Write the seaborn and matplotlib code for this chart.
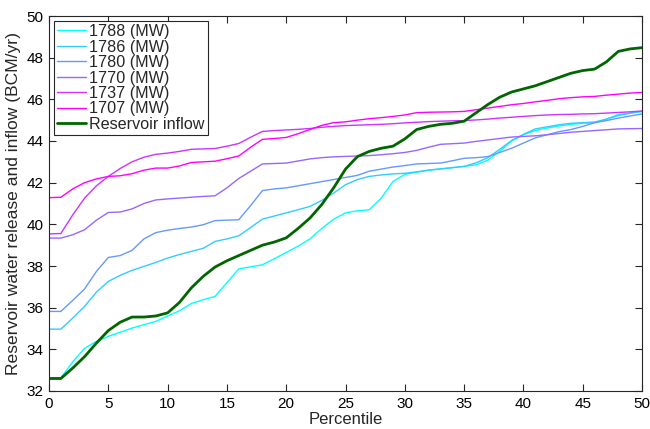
import numpy as np
import pandas as pd
import matplotlib
matplotlib.use("Agg")
import matplotlib.pyplot as plt
import seaborn as sns

percentile = list(range(0, 51))

inflow = [32.6, 32.6, 33.1, 33.65, 34.3, 34.9, 35.3, 35.55, 35.55, 35.6, 35.75, 36.25, 36.95, 37.5, 37.95,
          38.25, 38.5, 38.75, 39.0, 39.15, 39.35, 39.8, 40.3, 40.95, 41.75, 42.65, 43.25, 43.5, 43.65, 43.75,
          44.1, 44.55, 44.7, 44.8, 44.85, 44.95, 45.35, 45.75, 46.1, 46.35, 46.5, 46.65, 46.85, 47.05, 47.25,
          47.38, 47.45, 47.8, 48.3, 48.42, 48.48]

s1707 = [41.28, 41.3, 41.7, 42.0, 42.18, 42.3, 42.33, 42.43, 42.6, 42.7, 42.7, 42.8, 42.97, 43.0, 43.03,
         43.15, 43.28, 43.7, 44.08, 44.12, 44.17, 44.35, 44.55, 44.75, 44.88, 44.92, 45.0, 45.07, 45.12, 45.18,
         45.25, 45.36, 45.38, 45.39, 45.4, 45.42, 45.5, 45.58, 45.66, 45.74, 45.8, 45.88, 45.95, 46.03, 46.08,
         46.12, 46.14, 46.2, 46.25, 46.3, 46.33]

s1737 = [39.54, 39.56, 40.45, 41.26, 41.85, 42.3, 42.68, 43.0, 43.22, 43.36, 43.42, 43.5, 43.6, 43.62, 43.64,
         43.75, 43.88, 44.18, 44.46, 44.5, 44.53, 44.56, 44.6, 44.66, 44.7, 44.74, 44.76, 44.78, 44.8, 44.83,
         44.87, 44.9, 44.93, 44.95, 44.97, 44.98, 45.01, 45.05, 45.1, 45.14, 45.18, 45.22, 45.25, 45.27, 45.28,
         45.3, 45.31, 45.34, 45.37, 45.4, 45.44]

s1770 = [39.34, 39.34, 39.5, 39.74, 40.2, 40.57, 40.59, 40.74, 41.0, 41.17, 41.22, 41.26, 41.3, 41.34, 41.37,
         41.75, 42.2, 42.55, 42.9, 42.92, 42.94, 43.04, 43.14, 43.2, 43.24, 43.26, 43.28, 43.3, 43.34, 43.39,
         43.45, 43.55, 43.7, 43.84, 43.87, 43.9, 43.98, 44.05, 44.12, 44.19, 44.22, 44.25, 44.3, 44.36, 44.42,
         44.46, 44.5, 44.54, 44.58, 44.59, 44.6]

s1780 = [35.82, 35.82, 36.35, 36.9, 37.74, 38.41, 38.5, 38.75, 39.3, 39.6, 39.72, 39.8, 39.87, 39.98, 40.18,
         40.2, 40.22, 40.9, 41.62, 41.7, 41.75, 41.85, 41.95, 42.05, 42.15, 42.25, 42.35, 42.55, 42.65, 42.75,
         42.82, 42.9, 42.92, 42.94, 43.05, 43.17, 43.2, 43.25, 43.45, 43.65, 43.9, 44.15, 44.3, 44.45, 44.55,
         44.7, 44.88, 44.98, 45.1, 45.2, 45.3]

s1786 = [34.97, 34.97, 35.5, 36.06, 36.75, 37.26, 37.55, 37.79, 37.98, 38.17, 38.38, 38.55, 38.7, 38.85, 39.18,
         39.3, 39.45, 39.85, 40.25, 40.4, 40.55, 40.7, 40.86, 41.15, 41.5, 41.9, 42.15, 42.3, 42.37, 42.42,
         42.45, 42.52, 42.6, 42.66, 42.72, 42.78, 42.95, 43.2, 43.6, 44.02, 44.32, 44.58, 44.68, 44.78, 44.85,
         44.88, 44.91, 45.05, 45.22, 45.33, 45.42]

s1788 = [32.62, 32.62, 33.4, 34.05, 34.38, 34.62, 34.82, 35.02, 35.18, 35.34, 35.6, 35.85, 36.2, 36.38, 36.54,
         37.2, 37.86, 37.96, 38.06, 38.35, 38.65, 38.95, 39.3, 39.8, 40.25, 40.55, 40.65, 40.7, 41.25, 42.05,
         42.4, 42.5, 42.6, 42.66, 42.72, 42.78, 42.86, 43.08, 43.5, 44.0, 44.3, 44.5, 44.62, 44.72, 44.8,
         44.85, 44.87, 45.05, 45.27, 45.35, 45.42]

labels = ["1788 (MW)", "1786 (MW)", "1780 (MW)", "1770 (MW)", "1737 (MW)", "1707 (MW)", "Reservoir inflow"]
series = [s1788, s1786, s1780, s1770, s1737, s1707, inflow]
colors = [(0.0, 1.0, 1.0), (0.2, 0.8, 1.0), (0.4, 0.6, 1.0), (0.6, 0.4, 1.0), (0.8, 0.2, 1.0), (1.0, 0.0, 1.0),
          (0.0, 0.4, 0.0)]

rows = []
for lab, vals in zip(labels, series):
    for p, v in zip(percentile, vals):
        rows.append({"Percentile": p, "value": v, "series": lab})
df = pd.DataFrame(rows)

sns.set_theme(style="white")
plt.rcParams['font.family'] = ['Liberation Sans', 'DejaVu Sans']

fig = plt.figure(figsize=(6.5, 4.29), dpi=100)
ax = fig.add_axes([49/650, 1 - 391/429, (642-49)/650, (391-16)/429])

palette = dict(zip(labels, colors))
sizes = {lab: 1.0 for lab in labels}
sizes["Reservoir inflow"] = 2.0
sns.lineplot(data=df, x="Percentile", y="value", hue="series", hue_order=labels,
             palette=palette, size="series", sizes=sizes, size_order=labels, ax=ax)

ax.set_xlim(0, 50)
ax.set_ylim(32, 50)
ax.set_xticks(range(0, 51, 5))
ax.set_yticks(range(32, 51, 2))
ax.set_xlabel("Percentile", fontsize=12, labelpad=1)
ax.set_ylabel("Reservoir water release and inflow (BCM/yr)", fontsize=12.6, labelpad=4)
ax.tick_params(direction="in", length=5, width=0.8, colors="#262626", labelsize=11,
               top=True, right=True, bottom=True, left=True, labelcolor="black", pad=4)
for sp in ax.spines.values():
    sp.set_visible(True)
    sp.set_color("#262626")
    sp.set_linewidth(0.8)

handles, labs = ax.get_legend_handles_labels()
leg = ax.legend(handles, labs, loc="upper left", fontsize=11.6, frameon=True, fancybox=False,
                edgecolor="#262626", framealpha=1, borderpad=0.2, labelspacing=0.03,
                handlelength=1.8, handletextpad=0.2, borderaxespad=0.3)
leg.get_frame().set_linewidth(0.8)
for line, lab in zip(leg.get_lines(), labels):
    line.set_linewidth(2.0 if lab == "Reservoir inflow" else 1.0)

fig.savefig("out.png", dpi=100)
